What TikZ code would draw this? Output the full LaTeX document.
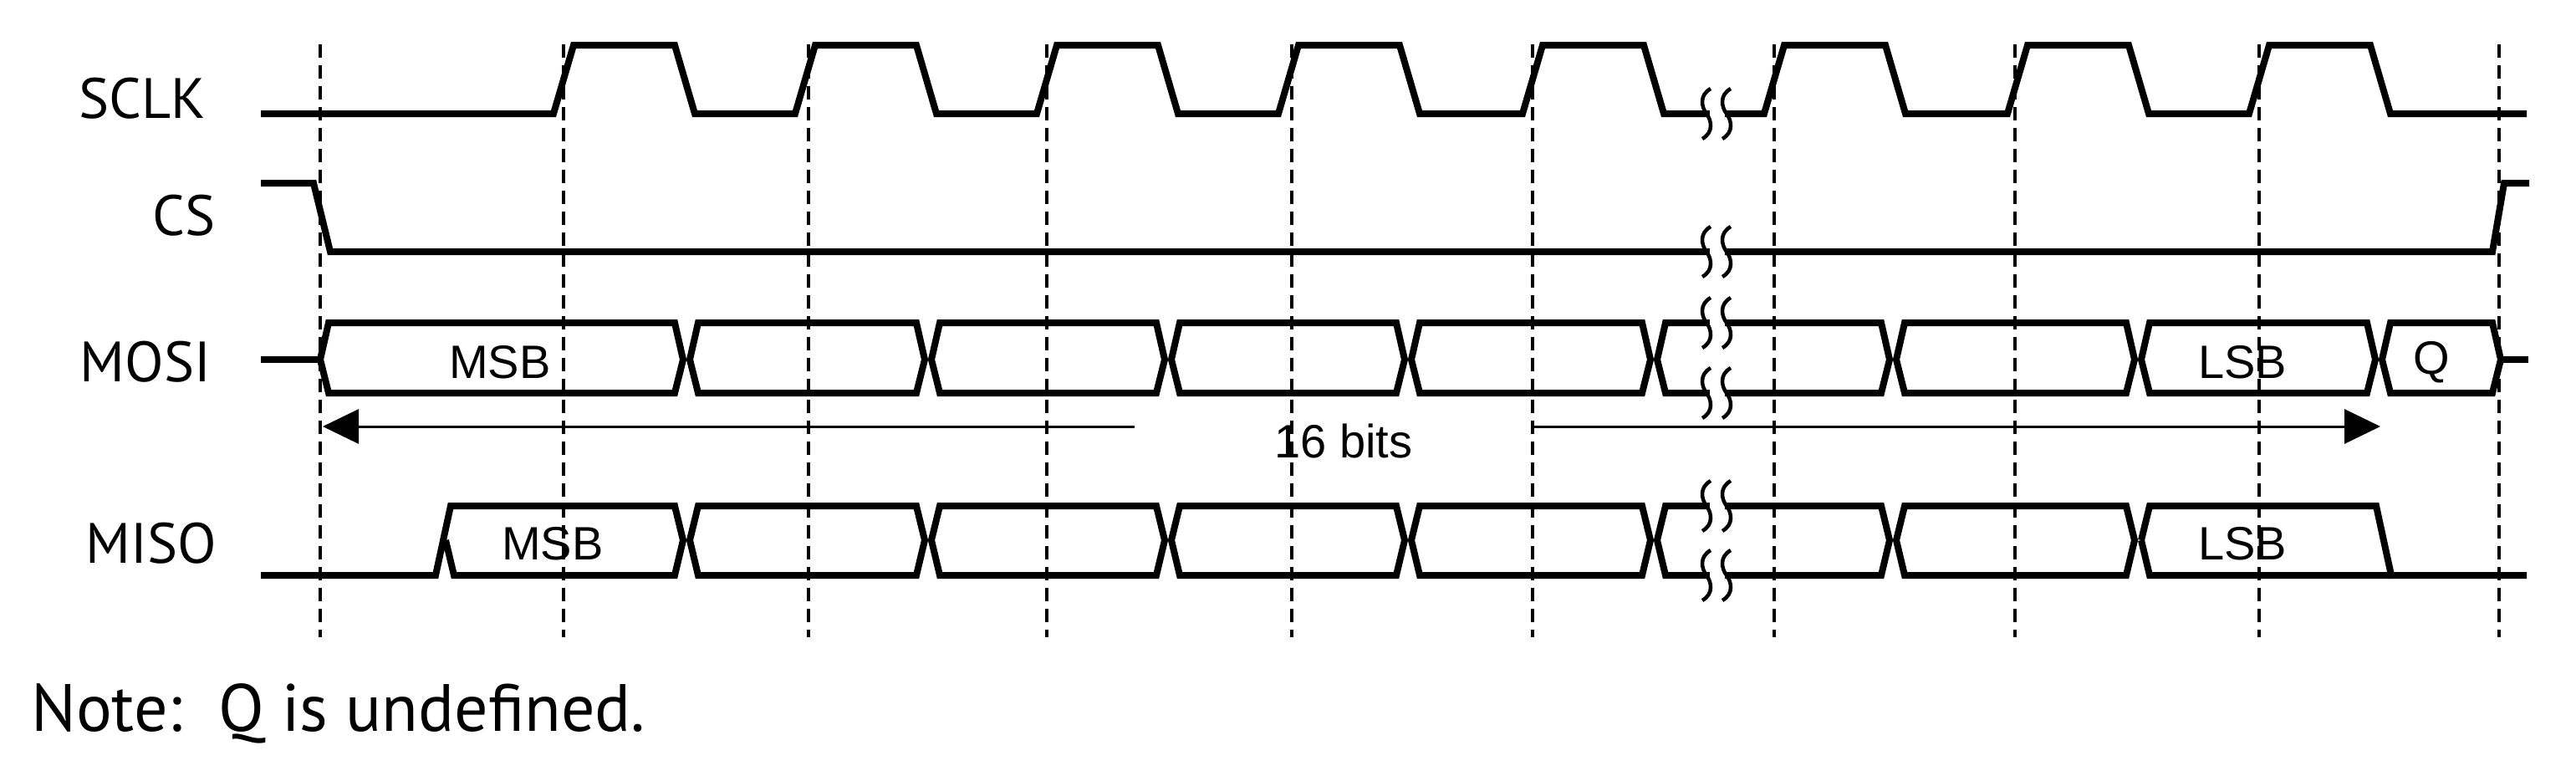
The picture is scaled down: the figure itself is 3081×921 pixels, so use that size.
\documentclass[tikz,border=0pt]{standalone}
\usepackage{fontspec}
\setmainfont{PT Sans}
\newfontfamily\inner{Liberation Sans}
\usetikzlibrary{arrows.meta}
\begin{document}
\begin{tikzpicture}[x=1pt,y=-1pt,
  sig/.style={line width=8pt},
  grid/.style={line width=3.5pt,dash pattern=on 16pt off 9pt},
  lbl/.style={font=\fontsize{68}{70}\selectfont,inner sep=0},
  inl/.style={font=\inner\fontsize{56}{60}\selectfont,inner sep=0},
  brk/.style={line width=4.5pt},
  meas/.style={line width=3pt}]
\useasboundingbox (0,0) rectangle (3081,921);
% dashed grid
\foreach \d in {383,674,967,1252,1545,1833,2122,2410,2702,2989}
  \draw[grid] (\d,53) -- (\d,762);
% labels
\node[lbl] (sclk) at (170,118) {SCLK};
\node[lbl] (cs) at (220,258) {CS};
\node[lbl] (mosi) at (174,433) {MOSI};
\node[lbl] (miso) at (181,650) {MISO};
\node[lbl,anchor=west,font=\fontsize{80}{84}\selectfont] (note) at (37,853) {Note:\ \ Q\ is\ undefined.};
% SCLK
\draw[sig] (312,136) -- (662,136)
 \foreach \d in {674,963,1252,1541,1833,2122,2413,2702} {
   -- (\d-12,136) -- (\d+12,54) -- (\d+133,54) -- (\d+157,136) }
 -- (3022,136);
% CS
\draw[sig] (312,219) -- (375,219) -- (395,301) -- (2981,301) -- (2995,219) -- (3025,219);
% MOSI
\draw[sig] (312,430) -- (383,430);
\foreach \a/\b in {379/821,821/1110,1110/1397,1397/1684,1684/1978,1978/2264,2264/2557,2557/2845,2845/2995}
  \draw[sig] (\a+4,430) -- (\a+14,386) -- (\b-14,386) -- (\b-4,430) -- (\b-14,470) -- (\a+14,470) -- cycle;
\draw[sig] (2991,430) -- (3024,430);
\node[inl] (m1) at (598,433) {MSB};
\node[inl] (l1) at (2682,433) {LSB};
\node[inl] (q) at (2908,433) {Q};
% MISO
\draw[sig] (312,688) -- (521,688) -- (539,605) -- (807,605) -- (817,646) -- (807,688) -- (543,688) -- (533,646);
\foreach \a/\b in {821/1110,1110/1397,1397/1684,1684/1978,1978/2264,2264/2557}
  \draw[sig] (\a+4,646) -- (\a+14,605) -- (\b-14,605) -- (\b-4,646) -- (\b-14,688) -- (\a+14,688) -- cycle;
\draw[sig] (2561,646) -- (2571,605) -- (2842,605) -- (2860,688) -- (3022,688);
\draw[sig] (2561,646) -- (2571,688) -- (2860,688);
\node[inl] (m2) at (661,650) {MSB};
\node[inl] (l2) at (2682,650) {LSB};
% breaks
\foreach \y in {136,301,386,470,605,688} {
  \fill[white] (2045,\y-7) rectangle (2063,\y+7);
  \foreach \x in {2041,2065}
    \draw[brk] (\x+5,\y-30) .. controls (\x-9,\y-22) and (\x-6,\y-8) .. (\x,\y)
               .. controls (\x+6,\y+8) and (\x+9,\y+22) .. (\x-5,\y+30);
}
% 16 bits
\node[inl] (bits) at (1607,527) {16 bits};
\coordinate (la) at (386,510);
\coordinate (lb) at (1357,510);
\coordinate (ra) at (1833,510);
\coordinate (rb) at (2847,510);
\draw[meas,-{Triangle[length=43pt,width=41pt]}] (lb) -- (la);
\draw[meas,-{Triangle[length=43pt,width=41pt]}] (ra) -- (rb);
\end{tikzpicture}
\end{document}
